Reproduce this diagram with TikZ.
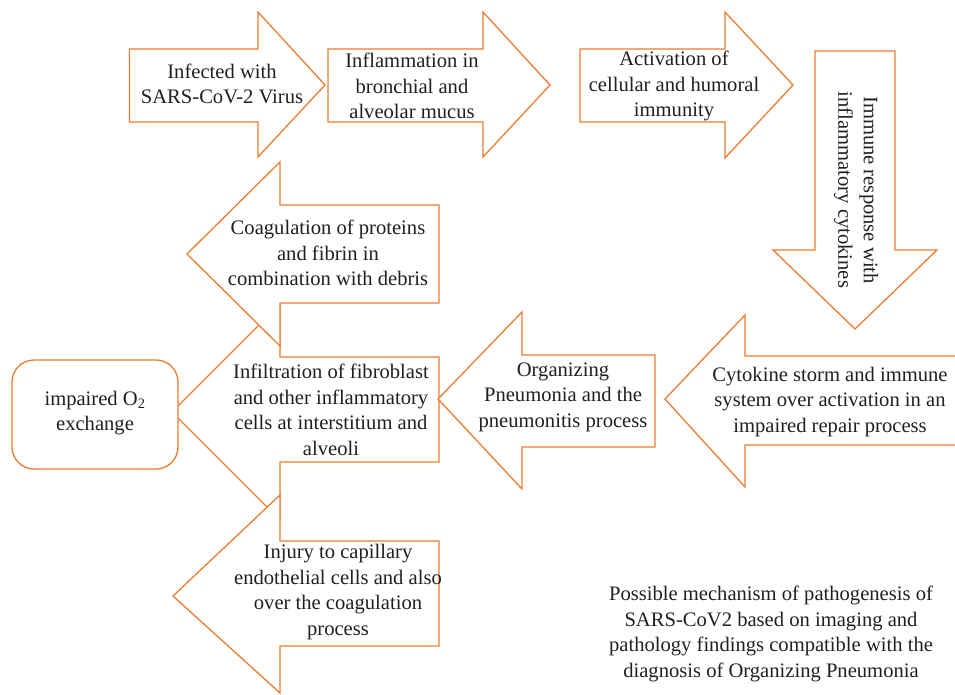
\documentclass[tikz,border=0pt]{standalone}
\usepackage{fontspec}
\setmainfont{Liberation Serif}
\definecolor{arrorange}{HTML}{ED7D31}
\definecolor{txt}{HTML}{231F20}
\tikzset{
  arrowbox/.style={draw=arrorange, fill=white, line width=1.3pt, line join=miter},
  lbl/.style={align=center, text=txt, font=\fontsize{20.6}{25.5}\selectfont, inner sep=0pt},
}
\begin{document}
\begin{tikzpicture}[x=1pt,y=-1pt]
\useasboundingbox (0,0) rectangle (955,695);
\clip (0,0) rectangle (955,695);
% top row
\draw[arrowbox] (129.5,49) -- (258,49) -- (258,12) -- (325,85) -- (258,157) -- (258,122) -- (129.5,122) -- cycle;
\draw[arrowbox] (328,49) -- (483,49) -- (483,12) -- (550,85) -- (483,157) -- (483,122) -- (328,122) -- cycle;
\draw[arrowbox] (580,49) -- (725,49) -- (725,12) -- (793,85) -- (725,158) -- (725,122) -- (580,122) -- cycle;
% down arrow
\draw[arrowbox] (815,51) -- (895,51) -- (895,250) -- (937,250) -- (855,329) -- (773,250) -- (815,250) -- cycle;
% cytokine storm
\draw[arrowbox] (962,356) -- (745,356) -- (745,315) -- (665,399) -- (745,487) -- (745,445) -- (962,445) -- cycle;
% infiltration
\draw[arrowbox] (439,357) -- (280,357) -- (280,304) -- (172,412) -- (280,520) -- (280,462) -- (439,462) -- cycle;
% organizing
\draw[arrowbox] (655,355) -- (522,355) -- (522,312) -- (438,399) -- (522,489) -- (522,447) -- (655,447) -- cycle;
% coagulation
\draw[arrowbox] (439,205) -- (280,205) -- (280,162) -- (187,254) -- (280,346) -- (280,303) -- (439,303) -- cycle;
% injury
\draw[arrowbox] (439,541) -- (280,541) -- (280,495) -- (173,596) -- (280,693) -- (280,646) -- (439,646) -- cycle;
% impaired O2
\draw[arrowbox, rounded corners=22pt] (12,360) rectangle (178,469);

\node[lbl] (infected) at (222,84) {Infected with\\SARS-CoV-2 Virus};
\node[lbl] (inflam) at (412,86) {Inflammation in\\bronchial and\\alveolar mucus};
\node[lbl] (activ) at (674,86) {Activation of\\cellular and humoral\\immunity};
\node[lbl, rotate=-90] (immune) at (856,190) {Immune response with\\inflammatory cytokines};
\node[lbl] (cyto) at (830,402) {Cytokine storm and immune\\system over activation in an\\impaired repair process};
\node[lbl] (organ) at (563,397) {Organizing\\Pneumonia and the\\pneumonitis process};
\node[lbl] (infil) at (331,410) {Infiltration of fibroblast\\and other inflammatory\\cells at interstitium and\\alveoli};
\node[lbl] (coag) at (328,253) {Coagulation of proteins\\and fibrin in\\combination with debris};
\node[lbl] (injury) at (338,592) {Injury to capillary\\endothelial cells and also\\over the coagulation\\process};
\node[lbl] (otwo) at (95,413) {impaired O\textsubscript{2}\\exchange};
\node[lbl] (caption) at (771,634) {Possible mechanism of pathogenesis of\\SARS-CoV2 based on imaging and\\pathology findings compatible with the\\diagnosis of Organizing Pneumonia};
\end{tikzpicture}
\end{document}
